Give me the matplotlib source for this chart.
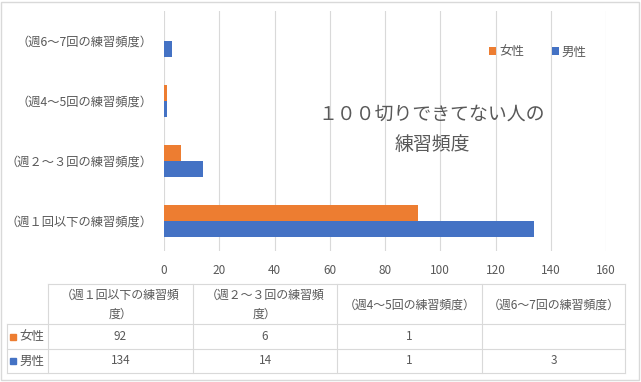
import numpy as np
import matplotlib
matplotlib.use('Agg')
import matplotlib.pyplot as plt
from matplotlib.lines import Line2D
from matplotlib.patches import Rectangle

plt.rcParams['font.family'] = ['Noto Sans CJK JP', 'DejaVu Sans']

# data
categories = ['（週１回以下の練習頻度）', '（週２～３回の練習頻度）',
              '（週4～5回の練習頻度）', '（週6～7回の練習頻度）']
header_labels = ['（週１回以下の練習頻\n度）', '（週２～３回の練習頻\n度）',
                 '（週4～5回の練習頻度）', '（週6～7回の練習頻度）']
series_names = ['女性', '男性']
female = [92, 6, 1, None]
male = [134, 14, 1, 3]
title = '１００切りできてない人の\n練習頻度'

c_female = '#ed7d31'
c_male = '#4472c4'
txt = '#595959'
grid = '#d9d9d9'

W, H = 641, 382
fig = plt.figure(figsize=(W / 100, H / 100), dpi=100)

def fx(px):
    return px / W

def fy(py):
    return 1 - py / H

# plot area
ax = fig.add_axes([fx(164), fy(251), fx(606) - fx(164), fy(11) - fy(251)])
y = np.arange(len(categories))
fem_vals = np.array([np.nan if v is None else v for v in female], dtype=float)
h = 0.267
b1 = ax.barh(y + h / 2, fem_vals, height=h, color=c_female, label=series_names[0], zorder=2)
b2 = ax.barh(y - h / 2, male, height=h, color=c_male, label=series_names[1], zorder=2)

ax.set_xlim(0, 160)
ax.set_ylim(-0.5, len(categories) - 0.5)
ax.set_xticks(np.arange(0, 161, 20))
ax.set_yticks(y)
ax.set_yticklabels(categories, fontsize=8.8, color=txt)
ax.tick_params(axis='x', colors=txt, labelsize=8.5, length=0, pad=9)
ax.tick_params(axis='y', length=0, pad=8)
ax.grid(axis='x', color=grid, linewidth=0.8, zorder=0)
for s in ax.spines.values():
    s.set_visible(False)

ax.legend(handles=[b1, b2], loc='center', bbox_to_anchor=(fx(538), fy(52)),
          bbox_transform=fig.transFigure, ncol=2, frameon=False, fontsize=9,
          handlelength=0.55, handleheight=0.55, handletextpad=0.25,
          columnspacing=2.2, labelcolor=txt)

fig.text(fx(432), fy(129), title, ha='center', va='center', fontsize=13.6,
         color=txt, linespacing=1.6)

# data table
col_x = [48, 193, 337, 482, 625]
row_y = [284, 324, 349, 373]
lc = grid
fig.add_artist(Line2D([fx(col_x[0]), fx(col_x[-1])], [fy(row_y[0])] * 2, color=lc, lw=0.8))
for ry in row_y[1:]:
    fig.add_artist(Line2D([fx(7), fx(col_x[-1])], [fy(ry)] * 2, color=lc, lw=0.8))
for cx in col_x:
    fig.add_artist(Line2D([fx(cx)] * 2, [fy(row_y[0]), fy(row_y[-1])], color=lc, lw=0.8))
fig.add_artist(Line2D([fx(7)] * 2, [fy(row_y[1]), fy(row_y[-1])], color=lc, lw=0.8))

for i, lab in enumerate(header_labels):
    cx = (col_x[i] + col_x[i + 1]) / 2
    fig.text(fx(cx), fy((row_y[0] + row_y[1]) / 2 + 1), lab, ha='center', va='center',
             fontsize=8.6, color=txt, linespacing=1.55)

for r, (name, vals, col) in enumerate([(series_names[0], female, c_female),
                                       (series_names[1], male, c_male)]):
    cy = (row_y[r + 1] + row_y[r + 2]) / 2
    fig.add_artist(Rectangle((fx(10), fy(cy + 3)), fx(6), fy(0) - fy(6), color=col,
                             transform=fig.transFigure))
    fig.text(fx(19), fy(cy), name, ha='left', va='center', fontsize=9, color=txt)
    for i, v in enumerate(vals):
        if v is None:
            continue
        cx = (col_x[i] + col_x[i + 1]) / 2
        fig.text(fx(cx), fy(cy), str(v), ha='center', va='center', fontsize=8.5, color=txt)

# chart border
fig.add_artist(Rectangle((fx(1), fy(380)), fx(638), fy(0) - fy(378), fill=False,
                         edgecolor=grid, lw=1, transform=fig.transFigure))

fig.savefig('out.png', dpi=100)
